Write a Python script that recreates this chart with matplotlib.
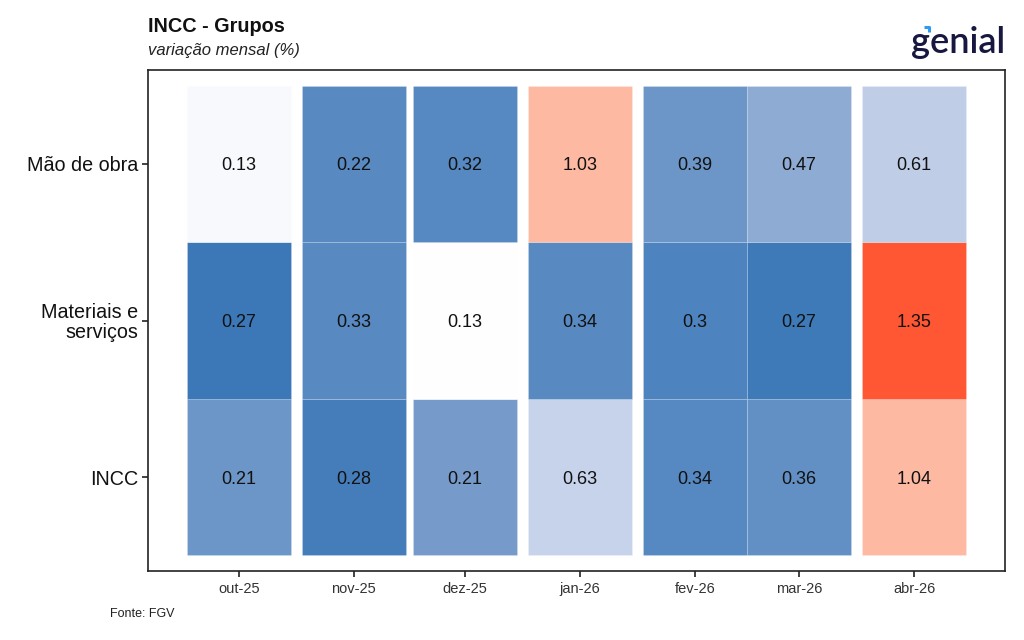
import matplotlib
matplotlib.use("Agg")
import matplotlib.pyplot as plt
import matplotlib.dates as mdates
from matplotlib.colors import LinearSegmentedColormap, Normalize
import pandas as pd
import numpy as np

plt.rcParams['font.family'] = ['Liberation Sans', 'DejaVu Sans']

# ---------------- data ----------------
meses = ["2025-10-01", "2025-11-01", "2025-12-01", "2026-01-01",
         "2026-02-01", "2026-03-01", "2026-04-01"]
rotulos_x = ["out-25", "nov-25", "dez-25", "jan-26", "fev-26", "mar-26", "abr-26"]
grupos = ["INCC", "Materiais e\nserviços", "Mão de obra"]   # bottom -> top

mao_de_obra = [0.13, 0.22, 0.32, 1.03, 0.39, 0.47, 0.61]
materiais = [0.27, 0.33, 0.13, 0.34, 0.30, 0.27, 1.35]
incc = [0.21, 0.28, 0.21, 0.63, 0.34, 0.36, 1.04]

# fill intensity (diverging score)
cor_mao = [-0.04, -0.86, -0.875, 0.42, -0.77, -0.62, -0.36]
cor_mat = [-0.985, -0.86, 0.0, -0.86, -0.91, -0.98, 1.0]
cor_incc = [-0.77, -0.95, -0.73, -0.32, -0.87, -0.82, 0.42]

valores = [incc, materiais, mao_de_obra]
cores = [cor_incc, cor_mat, cor_mao]

# ---------------- colour scale ----------------
cmap = LinearSegmentedColormap.from_list(
    "div",
    [(0.0, "#3A77B7"), (0.19, "#8FABD4"), (0.34, "#C7D3EA"),
     (0.5, "#FFFFFF"), (0.71, "#FEB9A3"), (1.0, "#FF5733")])
norm = Normalize(-1, 1)

fig = plt.figure(figsize=(10.24, 6.4), dpi=100)
ax = fig.add_axes([148/1024, 1-571/640, (1005-148)/1024, (571-70)/640])

datas = pd.to_datetime(meses)
xnum = mdates.date2num(datas)
largura = 28  # days

for i, (vals, cs) in enumerate(zip(valores, cores)):
    y = i + 1
    ax.bar(xnum, 1.0, bottom=y-0.5, width=largura,
           color=[cmap(norm(c)) for c in cs],
           edgecolor=(1, 1, 1, 0.25), linewidth=0.5, align="center", zorder=2)
    for xv, v in zip(xnum, vals):
        ax.text(xv, y, f"{v:g}", ha="center", va="center_baseline",
                fontsize=13, color="#111111", zorder=3)

xmin = xnum[0] - largura/2
xmax = xnum[-1] + largura/2
pad = (xmax - xmin) * 0.05
ax.set_xlim(xmin - pad, xmax + pad)
ax.set_ylim(0.4, 3.6)

ax.set_xticks(xnum)
ax.set_xticklabels(rotulos_x, fontsize=10.5, color="#333333")
ax.set_yticks([1, 2, 3])
ax.set_yticklabels(grupos, fontsize=14.2, color="#111111", linespacing=1.0)
for t in ax.get_yticklabels():
    t.set_multialignment("right")

for s in ax.spines.values():
    s.set_linewidth(1.2)
    s.set_color("#222222")
ax.tick_params(axis="both", length=4, width=1.2, color="#222222")
ax.tick_params(axis="x", pad=4)
ax.tick_params(axis="y", pad=3)

# titles
fig.text(148/1024, 1-32/640, "INCC - Grupos", fontsize=14.3, fontweight="bold",
         color="#111111", ha="left", va="baseline")
fig.text(148/1024, 1-55/640, "variação mensal (%)", fontsize=12, fontstyle="italic",
         color="#222222", ha="left", va="baseline")
fig.text(110/1024, 1-617/640, "Fonte: FGV", fontsize=9, color="#222222",
         ha="left", va="baseline")

# logo
fig.text(1005/1024, 1-53/640, "genial", fontsize=26, color="#17173F",
         fontweight="semibold", ha="right", va="baseline",
         family=["Lato", "DejaVu Sans"])
fig.lines.append(plt.Line2D([924/1024, 929/1024, 929/1024],
                            [1-27/640, 1-27/640, 1-32/640],
                            transform=fig.transFigure, color="#2E9BF0",
                            linewidth=2.2, solid_capstyle="butt"))

fig.savefig("out.png", dpi=100)
